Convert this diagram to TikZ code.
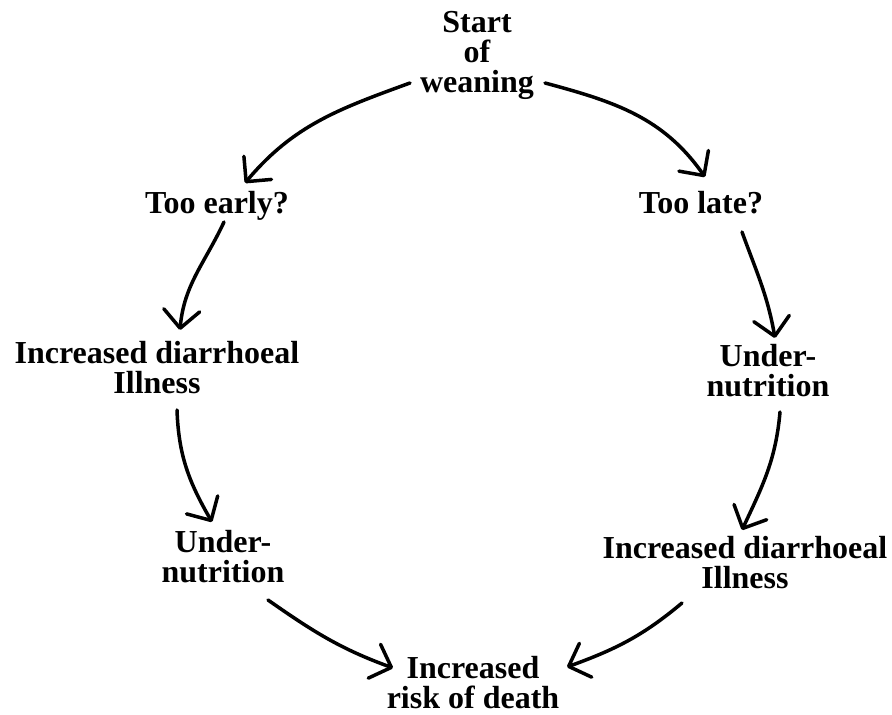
\documentclass[tikz,border=0pt]{standalone}
\usepackage{fontspec}
\setmainfont{Liberation Serif}
\usetikzlibrary{arrows.meta}
\begin{document}
\begin{tikzpicture}[x=1pt,y=1pt,
  lbl/.style={inner sep=0pt,align=center,anchor=north,
    font=\bfseries\fontsize{32}{30}\selectfont},
  arr/.style={line width=3.5pt,line cap=round,
    -{Straight Barb[length=18pt,width=36pt,line width=3.5pt,round]}}]
\useasboundingbox (0,0) rectangle (892,715);
\node[lbl] (start) at (477,703.5) {Start\\of\\weaning};
\node[lbl] (early) at (217,523.5) {Too early?};
\node[lbl] (late) at (701,523.5) {Too late?};
\node[lbl] (illL) at (157,373.5) {Increased diarrhoeal\\Illness};
\node[lbl] (undR) at (768,370.5) {Under-\\nutrition};
\node[lbl] (undL) at (223,184.5) {Under-\\nutrition};
\node[lbl] (illR) at (745,178.5) {Increased diarrhoeal\\Illness};
\node[lbl] (death) at (473,59) {Increased\\risk of death};

\draw[arr] ([shift={(-67,-71.5)}]start.north) to[out=200,in=50] ([shift={(28,8.5)}]early.north);
\draw[arr] ([shift={(68,-71.5)}]start.north) to[out=-15,in=125] ([shift={(4,14.5)}]late.north);
\draw[arr] ([shift={(7,-30.5)}]early.north) to[out=245,in=85] ([shift={(23,11.5)}]illL.north);
\draw[arr] ([shift={(41,-40.5)}]late.north) to[out=290,in=100] ([shift={(7,6.5)}]undR.north);
\draw[arr] ([shift={(20,-68.5)}]illL.north) to[out=272,in=120] ([shift={(-11,8.5)}]undL.north);
\draw[arr] ([shift={(12,-67.5)}]undR.north) to[out=265,in=65] ([shift={(-3,6.5)}]illR.north);
\draw[arr] ([shift={(45,-69.5)}]undL.north) to[out=-35,in=160] ([shift={(-80,-12)}]death.north);
\draw[arr] ([shift={(-63,-66.5)}]illR.north) to[out=220,in=20] ([shift={(94,-11)}]death.north);
\end{tikzpicture}
\end{document}
